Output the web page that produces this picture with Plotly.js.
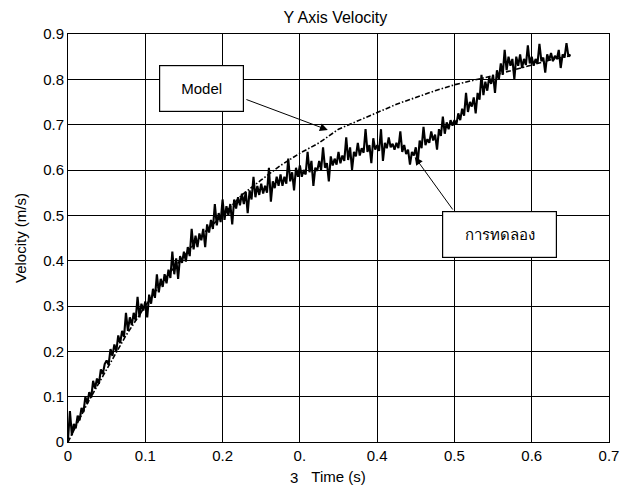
<!DOCTYPE html>
<html>
<head>
<meta charset="utf-8">
<script src="https://cdn.plot.ly/plotly-3.0.1.min.js"></script>
<style>
  html, body { margin: 0; padding: 0; background: #fff; }
  #chart { width: 627px; height: 485px; }
</style>
</head>
<body>
<div id="chart"></div>
<script>
// Sample spacing of the measured record and of the model curve (s)
const expStart = 0, expStep = 0.0025;
const modelStart = 0, modelStep = 0.025;

// Measured Y-axis velocity (m/s), one sample every 2.5 ms from t = 0 to 0.65 s
const expVelocity = [
  0.005, 0.068, 0.015, 0.04, 0.03, 0.058, 0.048, 0.075, 0.066, 0.1,
  0.085, 0.11, 0.098, 0.135, 0.118, 0.14, 0.128, 0.16, 0.15, 0.172,
  0.18, 0.17, 0.205, 0.19, 0.215, 0.2, 0.235, 0.218, 0.245, 0.232,
  0.285, 0.245, 0.275, 0.258, 0.285, 0.268, 0.32, 0.275, 0.305, 0.29,
  0.31, 0.275, 0.325, 0.305, 0.338, 0.318, 0.37, 0.33, 0.36, 0.342,
  0.37, 0.35, 0.38, 0.362, 0.42, 0.37, 0.405, 0.36, 0.41, 0.395,
  0.42, 0.398, 0.43, 0.41, 0.47, 0.425, 0.455, 0.43, 0.46, 0.445,
  0.47, 0.43, 0.48, 0.462, 0.49, 0.47, 0.525, 0.478, 0.505, 0.485,
  0.535, 0.49, 0.52, 0.5, 0.525, 0.48, 0.535, 0.515, 0.54, 0.522,
  0.548, 0.525, 0.552, 0.505, 0.555, 0.535, 0.585, 0.54, 0.565, 0.545,
  0.57, 0.548, 0.565, 0.55, 0.605, 0.53, 0.575, 0.56, 0.585, 0.565,
  0.59, 0.565, 0.585, 0.57, 0.625, 0.575, 0.595, 0.555, 0.605, 0.585,
  0.61, 0.585, 0.6, 0.59, 0.64, 0.595, 0.62, 0.565, 0.605, 0.598,
  0.62, 0.6, 0.65, 0.605, 0.615, 0.575, 0.63, 0.61, 0.625, 0.612,
  0.64, 0.615, 0.632, 0.62, 0.672, 0.622, 0.65, 0.6, 0.64, 0.63,
  0.66, 0.632, 0.648, 0.638, 0.69, 0.64, 0.655, 0.615, 0.67, 0.645,
  0.655, 0.642, 0.69, 0.62, 0.66, 0.648, 0.672, 0.65, 0.658, 0.645,
  0.66, 0.648, 0.685, 0.64, 0.655, 0.635, 0.645, 0.612, 0.64, 0.632,
  0.65, 0.615, 0.665, 0.648, 0.695, 0.655, 0.668, 0.66, 0.685, 0.665,
  0.678, 0.645, 0.69, 0.675, 0.718, 0.68, 0.705, 0.69, 0.71, 0.698,
  0.71, 0.7, 0.725, 0.71, 0.735, 0.72, 0.77, 0.728, 0.75, 0.74,
  0.76, 0.725, 0.77, 0.755, 0.81, 0.765, 0.795, 0.775, 0.805, 0.79,
  0.81, 0.77, 0.82, 0.8, 0.835, 0.81, 0.865, 0.82, 0.85, 0.83,
  0.845, 0.8, 0.85, 0.83, 0.855, 0.825, 0.845, 0.832, 0.875, 0.835,
  0.85, 0.83, 0.845, 0.835, 0.878, 0.84, 0.848, 0.815, 0.855, 0.842,
  0.858, 0.84, 0.852, 0.845, 0.865, 0.825, 0.855, 0.848, 0.88, 0.85,
  0.855
];

// Model prediction (m/s), every 25 ms from t = 0 to 0.65 s
const modelVelocity = [
  0, 0.085, 0.16, 0.235, 0.30, 0.36, 0.41, 0.46, 0.50, 0.545,
  0.578, 0.61, 0.637, 0.66, 0.69, 0.708, 0.726, 0.745, 0.76, 0.775,
  0.788, 0.798, 0.808, 0.82, 0.832, 0.843, 0.852
];

// Axis ticks
const xTickVals = [0, 0.1, 0.2, 0.3, 0.4, 0.5, 0.6, 0.7];
const xTickText = ['0', '0.1', '0.2', '0.', '0.4', '0.5', '0.6', '0.7'];
const yTickVals = [0, 0.1, 0.2, 0.3, 0.4, 0.5, 0.6, 0.7, 0.8, 0.9];
const yTickText = ['0', '0.1', '0.2', '0.3', '0.4', '0.5', '0.6', '0.7', '0.8', '0.9'];

const FONT = 'Liberation Sans, Arial, sans-serif';
const TXT = { family: FONT, size: 15, color: '#000' };

const traces = [
  {
    type: 'scatter', mode: 'lines', name: 'Model',
    x0: modelStart, dx: modelStep, y: modelVelocity,
    line: { color: '#000', width: 1.6, dash: '5px,2px,1.5px,2px' },
    hoverinfo: 'skip'
  },
  {
    type: 'scatter', mode: 'lines', name: 'การทดลอง',
    x0: expStart, dx: expStep, y: expVelocity,
    line: { color: '#000', width: 2.1 },
    hoverinfo: 'skip'
  }
];

const axisCommon = {
  showgrid: true, gridcolor: '#000', gridwidth: 1,
  showline: true, linecolor: '#000', linewidth: 1, mirror: true,
  zeroline: false, ticks: '', tickmode: 'array',
  tickfont: TXT,
  fixedrange: true
};

const layout = {
  width: 627, height: 485,
  margin: { l: 68, r: 18, t: 34, b: 43, pad: 0 },
  paper_bgcolor: '#fff', plot_bgcolor: '#fff',
  showlegend: false,
  font: TXT,
  title: {
    text: 'Y Axis Velocity',
    font: { family: FONT, size: 16, color: '#000' },
    x: 0.535, xanchor: 'center', y: 0.965, yanchor: 'middle'
  },
  xaxis: Object.assign({}, axisCommon, {
    range: [0, 0.7], tickvals: xTickVals, ticktext: xTickText,
    title: { text: 'Time (s)', font: TXT, standoff: 8 }
  }),
  yaxis: Object.assign({}, axisCommon, {
    range: [0, 0.9], tickvals: yTickVals, ticktext: yTickText,
    title: { text: 'Velocity (m/s)', font: TXT, standoff: 12 }
  }),
  annotations: [
    // tail digit of the 0.3 tick label, pushed down beside the axis title
    { xref: 'paper', yref: 'paper', x: 0.418, y: -0.086, text: '3',
      showarrow: false, xanchor: 'center', yanchor: 'middle', font: TXT },
    // labelled boxes
    { xref: 'x', yref: 'y', x: 0.1726, y: 0.780, text: 'Model',
      showarrow: false, xanchor: 'center', yanchor: 'middle',
      width: 81, height: 43, borderpad: 1, borderwidth: 1.2,
      bordercolor: '#000', bgcolor: '#fff', font: TXT },
    { xref: 'x', yref: 'y', x: 0.558, y: 0.4578, text: 'การทดลอง',
      showarrow: false, xanchor: 'center', yanchor: 'middle',
      width: 111, height: 43, borderpad: 1, borderwidth: 1.2,
      bordercolor: '#000', bgcolor: '#fff', font: TXT },
    // pointer arrows from the boxes to the curves
    { xref: 'x', yref: 'y', axref: 'x', ayref: 'y',
      x: 0.3362, y: 0.6883, ax: 0.2289, ay: 0.7567, text: '',
      showarrow: true, arrowhead: 2, arrowsize: 1.6, arrowwidth: 1, arrowcolor: '#000',
      standoff: 0, startstandoff: 0 },
    { xref: 'x', yref: 'y', axref: 'x', ayref: 'y',
      x: 0.4487, y: 0.6287, ax: 0.4992, ay: 0.5096, text: '',
      showarrow: true, arrowhead: 2, arrowsize: 1.6, arrowwidth: 1, arrowcolor: '#000',
      standoff: 0, startstandoff: 0 }
  ]
};

Plotly.newPlot('chart', traces, layout, { staticPlot: true, displayModeBar: false });
</script>
</body>
</html>
